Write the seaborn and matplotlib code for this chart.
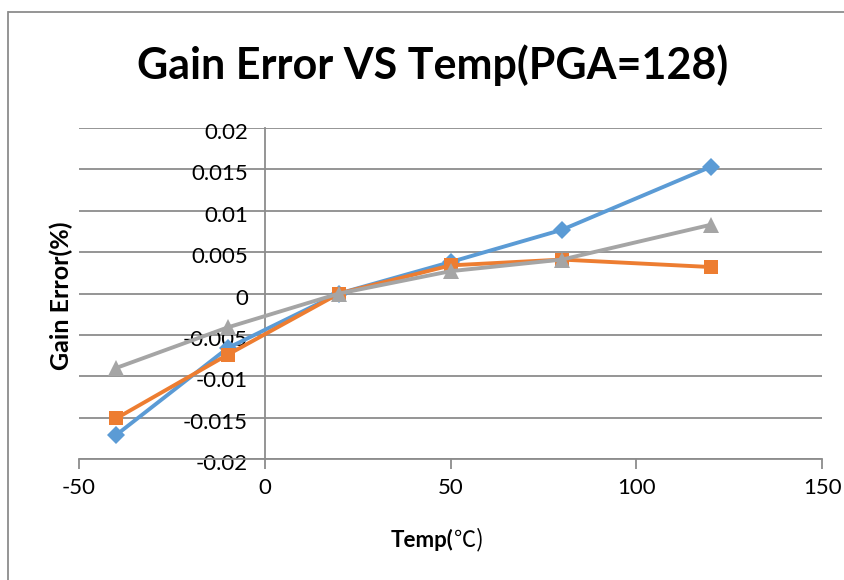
import pandas as pd
import seaborn as sns
import matplotlib.pyplot as plt
import matplotlib.transforms as mtransforms
from matplotlib.lines import Line2D

# data
temp = [-40, -10, 20, 50, 80, 120]
blue_vals = [-0.0171, -0.0066, 0.0, 0.0038, 0.0077, 0.0153]
orange_vals = [-0.0151, -0.0074, 0.0, 0.0034, 0.0041, 0.0032]
gray_vals = [-0.0090, -0.0041, 0.0, 0.0027, 0.0041, 0.0083]
series_names = ['S1', 'S2', 'S3']

df = pd.DataFrame({
    'Temp': temp * 3,
    'Gain': blue_vals + orange_vals + gray_vals,
    'Series': [series_names[0]] * 6 + [series_names[1]] * 6 + [series_names[2]] * 6,
})

sns.set_theme(style='white')
plt.rcParams['font.family'] = ['Lato', 'Noto Sans CJK SC', 'DejaVu Sans']
plt.rcParams['text.color'] = 'black'
plt.rcParams['xtick.labelcolor'] = 'black'
plt.rcParams['ytick.labelcolor'] = 'black'

fig = plt.figure(figsize=(8.45, 5.8), dpi=100)
ax = fig.add_axes([0.0935, 0.2086, 0.8793, 0.5707])

palette = {'S1': '#5B9BD5', 'S2': '#ED7D31', 'S3': '#A5A5A5'}
markers = {'S1': 'D', 'S2': 's', 'S3': '^'}
msizes = {'S1': 9, 'S2': 10.5, 'S3': 11}
for name in series_names:
    sub = df[df['Series'] == name]
    sns.lineplot(data=sub, x='Temp', y='Gain', color=palette[name], marker=markers[name],
                 markersize=msizes[name], markeredgewidth=0, linewidth=2.8,
                 ax=ax, legend=False, zorder=3)

ax.set_xlim(-50, 150)
ax.set_ylim(-0.02, 0.02)
ax.set_xticks([-50, 0, 50, 100, 150])
ax.set_xticklabels(['-50', '0', '50', '100', '150'])
yt = [-0.02, -0.015, -0.01, -0.005, 0, 0.005, 0.01, 0.015, 0.02]
ax.set_yticks(yt)
ax.set_yticklabels(['-0.02', '-0.015', '-0.01', '-0.005', '0', '0.005', '0.01', '0.015', '0.02'])

ax.yaxis.grid(True, color='#8C8C8C', linewidth=1.3)
ax.xaxis.grid(False)
ax.set_axisbelow(True)

for s in ['top', 'right']:
    ax.spines[s].set_visible(False)
ax.spines['left'].set_position(('data', 0))
ax.spines['left'].set_color('#8C8C8C')
ax.spines['left'].set_linewidth(1.3)
ax.spines['left'].set_zorder(1)
ax.spines['bottom'].set_color('#8C8C8C')
ax.spines['bottom'].set_linewidth(1.3)

ax.tick_params(axis='x', direction='out', length=7, width=1.3, color='#8C8C8C',
               labelsize=16, pad=7, bottom=True, labelcolor='black')
ax.tick_params(axis='y', length=0, labelsize=16, pad=12, labelcolor='black')
# y labels sit a little below their gridline
shift = mtransforms.ScaledTranslation(0, -3 / 100, fig.dpi_scale_trans)
for lab in ax.get_yticklabels():
    lab.set_transform(lab.get_transform() + shift)

ax.set_xlabel('')
ax.set_ylabel('')
fig.text(0.537, 0.069, 'Temp(', fontsize=16, fontweight='bold', ha='right', va='center')
fig.text(0.537, 0.069, '℃)', fontsize=16, ha='left', va='center',
         family=['Noto Sans CJK SC', 'DejaVu Sans'])
fig.text(0.072, 0.490, 'Gain Error(%)', rotation=90, fontsize=18, fontweight='bold',
         ha='center', va='center')

fig.text(0.512, 0.887, 'Gain Error VS Temp(PGA=128)', fontsize=31, fontweight='bold',
         ha='center', va='center')

# outer chart border: only left and top edges show
x0 = 8 / 845
y0 = 1 - 12 / 580
fig.add_artist(Line2D([x0, x0], [-0.05, y0], transform=fig.transFigure, color='#8C8C8C',
                      linewidth=1.3, solid_capstyle='projecting'))
fig.add_artist(Line2D([x0, 1.0], [y0, y0], transform=fig.transFigure, color='#8C8C8C',
                      linewidth=1.3, solid_capstyle='butt'))

fig.savefig('out.png', dpi=100, facecolor='white')
